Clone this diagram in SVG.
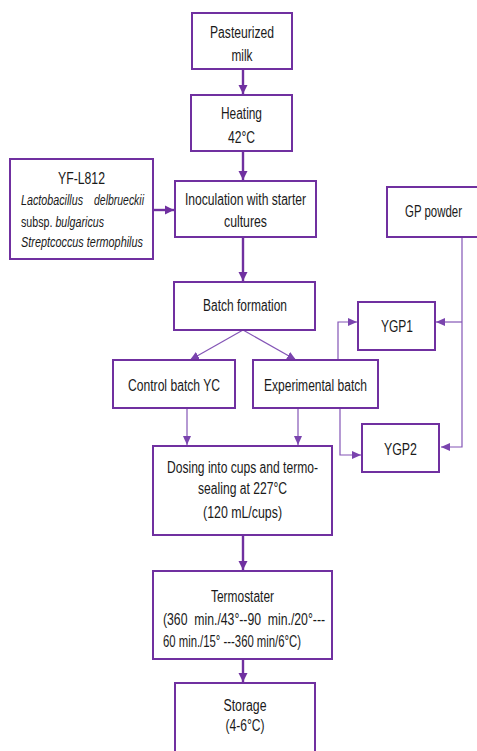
<svg xmlns="http://www.w3.org/2000/svg" width="477" height="751" viewBox="0 0 477 751">
<defs>
<style>
.box{fill:#fff;stroke:#7030A0;stroke-width:2}
.t{font-family:"Liberation Sans",Arial,sans-serif;font-size:16px;fill:#1a1a1a}
.s{font-size:14.4px}
.m{text-anchor:middle}
.e{text-anchor:end}
.it{font-style:italic}
.pre{white-space:pre}
.thick{fill:none;stroke:#7030A0;stroke-width:2.4}
.thin{fill:none;stroke:#8455B6;stroke-width:1.2}
</style>
<marker id="ah" markerUnits="userSpaceOnUse" markerWidth="10" markerHeight="10" refX="9" refY="5" orient="auto">
<path d="M0,0.5 L9,5 L0,9.5 z" fill="#7030A0"/>
</marker>
<marker id="ah2" markerUnits="userSpaceOnUse" markerWidth="10" markerHeight="10" refX="9" refY="5" orient="auto">
<path d="M0,1 L9,5 L0,9 z" fill="#7A44AE"/>
</marker>
</defs>
<rect width="477" height="751" fill="#fff"/>
<g id="connectors">
<path class="thick" d="M243,69 V94" marker-end="url(#ah)"/>
<path class="thick" d="M243,151 V180" marker-end="url(#ah)"/>
<path class="thick" d="M153,210 H174" marker-end="url(#ah)"/>
<path class="thick" d="M243,237 V281" marker-end="url(#ah)"/>
<path class="thin" d="M243,330 L190,360" marker-end="url(#ah2)"/>
<path class="thin" d="M243,330 L296,360" marker-end="url(#ah2)"/>
<path class="thin" d="M338,360 V322 H357" marker-end="url(#ah2)"/>
<path class="thin" d="M462,237 V447 H441" marker-end="url(#ah2)"/>
<path class="thin" d="M462,322 H436" marker-end="url(#ah2)"/>
<path class="thin" d="M340,408 V455 H361" marker-end="url(#ah2)"/>
<path class="thin" d="M187,408 V445" marker-end="url(#ah2)"/>
<path class="thin" d="M298,408 V445" marker-end="url(#ah2)"/>
<path class="thick" d="M243,535 V570" marker-end="url(#ah)"/>
<path class="thick" d="M243,659 V682" marker-end="url(#ah)"/>
</g>
<g id="pasteurized">
<rect class="box" x="192" y="13" width="100" height="56"/>
<text class="t m" transform="translate(242,38) scale(.76,1)" textLength="84.2" lengthAdjust="spacingAndGlyphs">Pasteurized</text>
<text class="t m" transform="translate(242,61) scale(.76,1)" textLength="27.6" lengthAdjust="spacingAndGlyphs">milk</text>
</g>
<g id="heating">
<rect class="box" x="191" y="95" width="101" height="56"/>
<text class="t m" transform="translate(241.5,119) scale(.76,1)" textLength="53.9" lengthAdjust="spacingAndGlyphs">Heating</text>
<text class="t m" transform="translate(241.5,143) scale(.76,1)" textLength="35.5" lengthAdjust="spacingAndGlyphs">42°C</text>
</g>
<g id="yfl812">
<rect class="box" x="10" y="159" width="143" height="100"/>
<text class="t m" transform="translate(81.5,184) scale(.76,1)" textLength="61.8" lengthAdjust="spacingAndGlyphs">YF-L812</text>
<text class="t s it" transform="translate(21,205) scale(.76,1)" textLength="81.6" lengthAdjust="spacingAndGlyphs">Lactobacillus</text>
<text class="t s it e" transform="translate(144,205) scale(.76,1)" textLength="65.8" lengthAdjust="spacingAndGlyphs">delbrueckii</text>
<text class="t s" transform="translate(21,227) scale(.76,1)" textLength="109.2" lengthAdjust="spacingAndGlyphs">subsp. <tspan class="it">bulgaricus</tspan></text>
<text class="t s it" transform="translate(21,247) scale(.76,1)" textLength="160.5" lengthAdjust="spacingAndGlyphs">Streptcoccus termophilus</text>
</g>
<g id="inoculation">
<rect class="box" x="175" y="181" width="141" height="56"/>
<text class="t m" transform="translate(245.5,205) scale(.76,1)" textLength="159.2" lengthAdjust="spacingAndGlyphs">Inoculation with starter</text>
<text class="t m" transform="translate(245.5,227) scale(.76,1)" textLength="56.6" lengthAdjust="spacingAndGlyphs">cultures</text>
</g>
<g id="gp-powder">
<rect class="box" x="387" y="187" width="91" height="50"/>
<text class="t m" transform="translate(433.5,217) scale(.76,1)" textLength="75" lengthAdjust="spacingAndGlyphs">GP powder</text>
</g>
<g id="batch-formation">
<rect class="box" x="174" y="282" width="141" height="48"/>
<text class="t m" transform="translate(245,311) scale(.76,1)" textLength="110.5" lengthAdjust="spacingAndGlyphs">Batch formation</text>
</g>
<g id="ygp1">
<rect class="box" x="358" y="302" width="77" height="48"/>
<text class="t m" transform="translate(397,332) scale(.76,1)" textLength="42.1" lengthAdjust="spacingAndGlyphs">YGP1</text>
</g>
<g id="control-batch">
<rect class="box" x="113" y="360" width="122" height="48"/>
<text class="t m" transform="translate(174,391) scale(.76,1)" textLength="121" lengthAdjust="spacingAndGlyphs">Control batch YC</text>
</g>
<g id="experimental-batch">
<rect class="box" x="253" y="360" width="125" height="48"/>
<text class="t m" transform="translate(315.5,391) scale(.76,1)" textLength="135.5" lengthAdjust="spacingAndGlyphs">Experimental batch</text>
</g>
<g id="ygp2">
<rect class="box" x="362" y="424" width="77" height="48"/>
<text class="t m" transform="translate(400.5,455) scale(.76,1)" textLength="43.4" lengthAdjust="spacingAndGlyphs">YGP2</text>
</g>
<g id="dosing">
<rect class="box" x="153" y="446" width="179" height="89"/>
<text class="t m" transform="translate(242.5,473) scale(.76,1)" textLength="198.7" lengthAdjust="spacingAndGlyphs">Dosing into cups and termo-</text>
<text class="t m" transform="translate(242.5,494) scale(.76,1)" textLength="117.1" lengthAdjust="spacingAndGlyphs">sealing at 227°C</text>
<text class="t m" transform="translate(242.5,518) scale(.76,1)" textLength="103.9" lengthAdjust="spacingAndGlyphs">(120 mL/cups)</text>
</g>
<g id="termostater">
<rect class="box" x="153" y="571" width="179" height="88"/>
<text class="t m" transform="translate(242.5,602) scale(.76,1)" textLength="82.9" lengthAdjust="spacingAndGlyphs">Termostater</text>
<text class="t pre" transform="translate(163,625) scale(.76,1)" textLength="213.2" lengthAdjust="spacingAndGlyphs">(360  min./43°--90  min./20°---</text>
<text class="t" transform="translate(163,647) scale(.76,1)" textLength="181.6" lengthAdjust="spacingAndGlyphs">60 min./15° ---360 min/6°C)</text>
</g>
<g id="storage">
<rect class="box" x="175" y="683" width="140" height="90"/>
<text class="t m" transform="translate(245,711) scale(.76,1)" textLength="56.6" lengthAdjust="spacingAndGlyphs">Storage</text>
<text class="t m" transform="translate(245,731) scale(.76,1)" textLength="51.3" lengthAdjust="spacingAndGlyphs">(4-6°C)</text>
</g>
</svg>
